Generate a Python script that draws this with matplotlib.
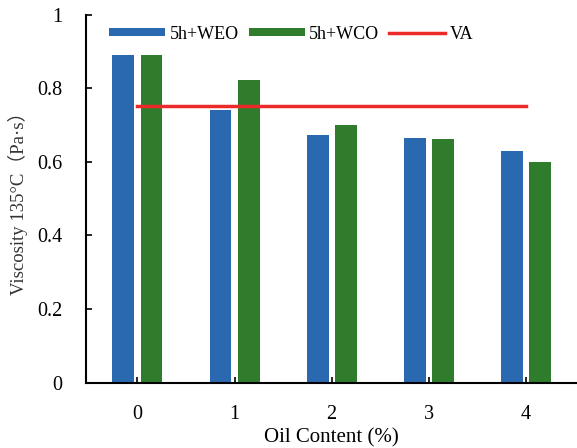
import numpy as np
import matplotlib
matplotlib.use("Agg")
import matplotlib.pyplot as plt

# Viscosity at 135 °C for rejuvenated binder vs. oil content
oil_content = ["0", "1", "2", "3", "4"]
weo = [0.890, 0.740, 0.673, 0.665, 0.631]
wco = [0.890, 0.823, 0.701, 0.661, 0.601]
va = [0.753, 0.753, 0.753, 0.753, 0.753]

blue = "#2a69b0"
green = "#2f7d2c"
red = "#ec2a2a"

plt.rcParams["font.family"] = ["Liberation Serif", "Noto Sans CJK SC"]

fig = plt.figure(figsize=(5.77, 4.48), dpi=100)
ax = fig.add_axes([0.149, 0.146, 0.85, 0.821])

x = np.arange(len(oil_content))
w = 0.225
off = 0.145
b1 = ax.bar(x - off, weo, w, color=blue, label="5h+WEO")
b2 = ax.bar(x + off, wco, w, color=green, label="5h+WCO")
ln, = ax.plot(x, va, color=red, lw=2.5, label="VA")

ax.set_xlim(-0.53, 4.52)
ax.set_ylim(0, 1)
ax.set_xticks(x)
ax.set_xticklabels(oil_content)
ax.set_yticks([0, 0.2, 0.4, 0.6, 0.8, 1.0])
ax.set_yticklabels(["0", "0.2", "0.4", "0.6", "0.8", "1"])
ax.tick_params(axis="both", direction="in", length=4, width=1.2,
               labelsize=14.5, colors="black")
ax.tick_params(axis="x", pad=16)
ax.tick_params(axis="y", pad=17)

for side in ["top", "right"]:
    ax.spines[side].set_visible(False)
for side in ["left", "bottom"]:
    ax.spines[side].set_linewidth(1.5)

ax.set_xlabel("Oil Content (%)", fontsize=15)
ax.xaxis.set_label_coords(0.5, -0.125)
ax.set_ylabel("Viscosity 135°C（Pa·s）", fontsize=13.5, color="#333333")
ax.yaxis.set_label_coords(-0.118, 0.5)

ax.legend(handles=[b1, b2, ln], loc="upper left", bbox_to_anchor=(0.025, 1.0),
          ncol=3, frameon=False, fontsize=13, handlelength=3.1,
          handleheight=0.3, handletextpad=0.25, columnspacing=0.55,
          borderaxespad=0.2)

fig.savefig("out.png", dpi=100)
